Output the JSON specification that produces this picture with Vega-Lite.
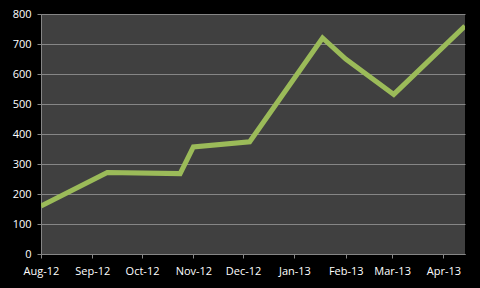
{
  "$schema": "https://vega.github.io/schema/vega-lite/v6.json",
  "width": 424,
  "height": 240,
  "autosize": "none",
  "padding": {"left": 41, "top": 14, "right": 15, "bottom": 34},
  "background": "#000000",
  "config": {
    "view": {"fill": "#404040", "stroke": null},
    "axis": {
      "labelColor": "#ffffff",
      "labelFont": "Open Sans",
      "labelFontSize": 11,
      "domainColor": "#868686",
      "tickColor": "#868686",
      "gridColor": "#868686",
      "tickSize": 4,
      "domainWidth": 1,
      "gridWidth": 1,
      "title": null
    }
  },
  "data": {
    "values": [
      {"date": "2012/08/01", "value": 160},
      {"date": "2012/09/10", "value": 272},
      {"date": "2012/10/24", "value": 268},
      {"date": "2012/11/01", "value": 357},
      {"date": "2012/12/05", "value": 374},
      {"date": "2013/01/18", "value": 720},
      {"date": "2013/02/01", "value": 650},
      {"date": "2013/03/02", "value": 532},
      {"date": "2013/04/14", "value": 760}
    ]
  },
  "mark": {"type": "line", "color": "#9bbb59", "strokeWidth": 5, "strokeJoin": "miter", "clip": true},
  "encoding": {
    "x": {
      "field": "date",
      "type": "temporal",
      "scale": {"domain": [{"year": 2012, "month": 8, "date": 1}, {"year": 2013, "month": 4, "date": 14}]},
      "axis": {"format": "%b-%y", "tickCount": {"interval": "month", "step": 1}, "grid": false, "labelPadding": 7, "labelFlush": false, "labelOverlap": false}
    },
    "y": {
      "field": "value",
      "type": "quantitative",
      "scale": {"domain": [0, 800], "nice": false},
      "axis": {"values": [0, 100, 200, 300, 400, 500, 600, 700, 800], "grid": true, "labelPadding": 6}
    }
  }
}
